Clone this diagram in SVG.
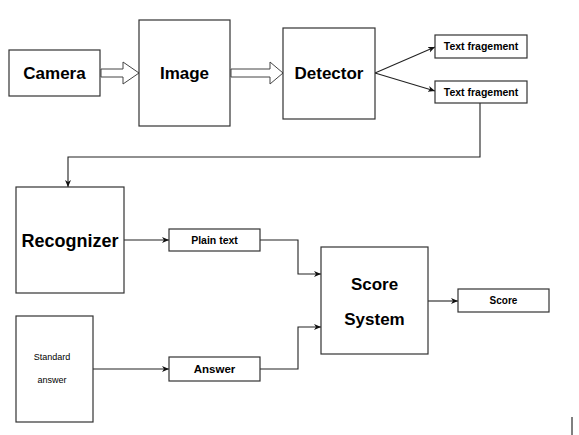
<svg xmlns="http://www.w3.org/2000/svg" width="579" height="435" viewBox="0 0 579 435">
<style>
.box{fill:#fff;stroke:#333;stroke-width:1.2}
.big{font-family:"Liberation Sans",Arial,sans-serif;font-weight:bold;font-size:17px;fill:#000;text-anchor:middle}
.sm{font-family:"Liberation Sans",Arial,sans-serif;font-weight:bold;font-size:10.5px;fill:#000;text-anchor:middle}
.tiny{font-family:"Liberation Sans",Arial,sans-serif;font-size:9px;fill:#000;text-anchor:middle}
.ln{fill:none;stroke:#222;stroke-width:1.1}
.hollow{fill:#fff;stroke:#444;stroke-width:1}
</style>
<defs>
<marker id="ah" markerWidth="8" markerHeight="8" refX="7" refY="4" orient="auto" markerUnits="userSpaceOnUse">
<path d="M0,1 L7,4 L0,7 L2,4 Z" fill="#111"/>
</marker>
</defs>
<rect width="579" height="435" fill="#fff"/>
<g id="connectors">
<path class="hollow" d="M101,69 H123 V62 L139,73 L123,84 V77 H101 Z"/>
<path class="hollow" d="M231,69 H270 V62 L283,73 L270,84 V77 H231 Z"/>
<path class="ln" d="M375,73 L435,47" marker-end="url(#ah)"/>
<path class="ln" d="M375,73 L435,91" marker-end="url(#ah)"/>
<path class="ln" d="M480,103 V157 H68 V187" marker-end="url(#ah)"/>
<path class="ln" d="M124,240 H169" marker-end="url(#ah)"/>
<path class="ln" d="M93,369 H169" marker-end="url(#ah)"/>
<path class="ln" d="M260,240 H298 V274 H321" marker-end="url(#ah)"/>
<path class="ln" d="M260,369 H298 V327 H321" marker-end="url(#ah)"/>
<path class="ln" d="M428,301 H458" marker-end="url(#ah)"/>
</g>
<g id="camera"><rect class="box" x="9" y="50" width="91" height="46"/><text class="big" x="54.5" y="79">Camera</text></g>
<g id="image"><rect class="box" x="139" y="20" width="91" height="106"/><text class="big" x="184.5" y="79">Image</text></g>
<g id="detector"><rect class="box" x="283" y="28" width="92" height="91"/><text class="big" x="329" y="79">Detector</text></g>
<g id="frag1"><rect class="box" x="435" y="35" width="92" height="23"/><text class="sm" x="481" y="50">Text fragement</text></g>
<g id="frag2"><rect class="box" x="435" y="81" width="92" height="22"/><text class="sm" x="481" y="96">Text fragement</text></g>
<g id="recognizer"><rect class="box" x="16" y="187" width="108" height="106"/><text class="big" x="70" y="247" style="font-size:18px">Recognizer</text></g>
<g id="standard"><rect class="box" x="16" y="316" width="77" height="106"/><text class="tiny" x="52" y="360">Standard</text><text class="tiny" x="52" y="383">answer</text></g>
<g id="plaintext"><rect class="box" x="169" y="229" width="91" height="22"/><text class="sm" x="214.5" y="244">Plain text</text></g>
<g id="answer"><rect class="box" x="169" y="357" width="91" height="24"/><text class="sm" x="214.5" y="373" style="font-size:11.5px">Answer</text></g>
<g id="scoresystem"><rect class="box" x="321" y="247" width="107" height="107"/><text class="big" x="374.5" y="290">Score</text><text class="big" x="374.5" y="325">System</text></g>
<g id="score"><rect class="box" x="458" y="289" width="91" height="23"/><text class="sm" x="503.5" y="304" style="font-size:10px">Score</text></g>
<line x1="572" y1="417" x2="572" y2="435" stroke="#000" stroke-width="1"/>
</svg>
